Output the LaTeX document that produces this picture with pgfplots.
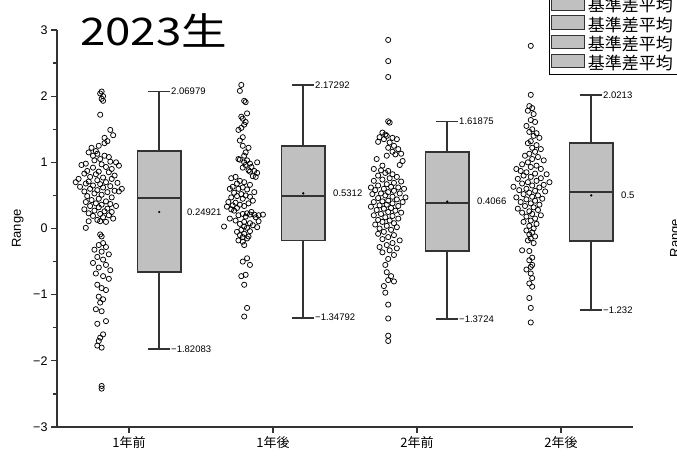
\documentclass[border=0pt]{standalone}
\usepackage{fontspec}
\setmainfont{Liberation Sans}
\newfontfamily\cjk{Noto Sans CJK JP}
\usepackage{pgfplots}
\pgfplotsset{compat=1.18}
\usepgfplotslibrary{statistics}
\definecolor{boxgray}{HTML}{C0C0C0}
\definecolor{edge}{HTML}{333333}
\pgfplotsset{
  mylegend/.style={legend image code/.code={\draw[fill=boxgray, draw=edge, line width=1pt] (1pt,-2.5pt) rectangle (34pt,11pt);}},
  scat/.style={only marks, mark=o, mark size=2.6pt, mark options={black, line width=0.75pt}},
  mybox/.style={forget plot, fill=boxgray, draw=edge, line width=1.5pt,
    boxplot/every box/.style={draw=edge, fill=boxgray, line width=1.5pt},
    boxplot/every whisker/.style={draw=edge, line width=1.8pt},
    boxplot/every median/.style={draw=edge, line width=1.5pt}},
}
\newcommand{\lab}{\fontsize{9.5}{9.5}\selectfont}
\begin{document}
\begin{tikzpicture}[x=1pt,y=1pt]
\begin{axis}[at={(0,0)}, anchor=south west, scale only axis,
  width=576pt, height=397pt,
  xmin=-0.5, xmax=3.5, ymin=-3, ymax=3,
  axis lines=left, axis line style={edge, line width=1.2pt, -},
  tick align=outside, major tick length=6pt, minor tick length=4pt,
  tick style={edge, line width=1.2pt},
  xtick={0,1,2,3}, xticklabels={1年前,1年後,2年前,2年後},
  x tick label style={font=\cjk\fontsize{13}{13}\selectfont},
  ytick={-3,-2,-1,0,1,2,3}, yticklabels={−3,−2,−1,0,1,2,3},
  minor y tick num=1,
  y tick label style={font=\fontsize{12.5}{12.5}\selectfont},
  ylabel={Range},
  ylabel style={at={(axis description cs:-0.068,0.5)}, anchor=center, font=\fontsize{13}{13}\selectfont},
  boxplot/draw direction=y,
  clip=false,
  legend cell align=left,
  legend style={at={(axis description cs:0.854,1.09)}, anchor=north west, draw=black, line width=0.8pt, fill=white,
    font=\cjk\fontsize{17}{17}\selectfont, inner sep=1.5pt,
    nodes={text height=11pt, text depth=2.5pt, inner sep=1pt}, row sep=0pt, column sep=2pt},
]
% scatter data
\addplot[scat, forget plot] coordinates {
(-0.19,2.07) (-0.20,2.04) (-0.18,2.00) (-0.19,1.96) (-0.18,1.93) (-0.20,1.72)
(-0.13,1.49) (-0.11,1.41) (-0.17,1.37) (-0.15,1.32) (-0.17,1.29) (-0.21,1.25) (-0.26,1.22) (-0.23,1.17) (-0.28,1.15) (-0.22,1.13) (-0.25,1.10) (-0.17,1.10) (-0.14,1.08) (-0.20,1.05) (-0.24,1.03) (-0.09,1.00) (-0.13,1.01) (-0.30,0.98) (-0.19,0.97) (-0.07,0.95) (-0.33,0.96) (-0.16,0.93) (-0.25,0.92) (-0.12,0.90) (-0.29,0.87) (-0.21,0.86) (-0.14,0.85) (-0.31,0.83) (-0.23,0.82) (-0.10,0.80) (-0.27,0.78) (-0.18,0.77) (-0.35,0.75) (-0.12,0.75) (-0.22,0.73) (-0.28,0.71) (-0.16,0.70) (-0.37,0.70) (-0.08,0.69) (-0.30,0.68) (-0.20,0.67) (-0.25,0.65) (-0.13,0.64) (-0.34,0.63) (-0.18,0.62) (-0.05,0.60) (-0.27,0.60) (-0.22,0.58) (-0.10,0.57) (-0.31,0.56) (-0.15,0.55) (-0.07,0.56) (-0.24,0.53) (-0.19,0.51) (-0.29,0.49) (-0.12,0.47) (-0.21,0.45) (-0.26,0.43) (-0.16,0.41) (-0.30,0.40) (-0.23,0.38) (-0.13,0.37) (-0.19,0.36) (-0.27,0.34) (-0.09,0.34) (-0.21,0.32) (-0.15,0.30) (-0.31,0.29) (-0.24,0.27) (-0.17,0.26) (-0.12,0.25) (-0.28,0.23) (-0.20,0.22) (-0.14,0.20) (-0.25,0.19) (-0.18,0.17) (-0.11,0.15) (-0.22,0.13) (-0.28,0.11) (-0.16,0.10) (-0.20,0.11) (-0.30,0.01) (-0.20,-0.09) (-0.19,-0.12) (-0.18,-0.22) (-0.21,-0.25) (-0.16,-0.28) (-0.24,-0.32) (-0.19,-0.35) (-0.14,-0.39) (-0.22,-0.43) (-0.18,-0.47) (-0.25,-0.52) (-0.16,-0.55) (-0.21,-0.59) (-0.13,-0.63) (-0.23,-0.68) (-0.18,-0.72) (-0.14,-0.76) (-0.22,-0.85) (-0.19,-0.90) (-0.16,-0.93) (-0.21,-1.03) (-0.18,-1.07) (-0.20,-1.12) (-0.23,-1.22) (-0.19,-1.25) (-0.16,-1.40) (-0.22,-1.44) (-0.18,-1.60) (-0.20,-1.65) (-0.21,-1.70) (-0.22,-1.77) (-0.19,-1.80) (-0.19,-2.38) (-0.19,-2.42)
};
\addplot[scat, forget plot] coordinates {
(0.78,2.17) (0.77,2.08) (0.80,1.93) (0.81,1.91) (0.82,1.74) (0.78,1.69) (0.79,1.66) (0.81,1.61) (0.80,1.57) (0.78,1.52) (0.76,1.49) (0.79,1.38) (0.77,1.33) (0.79,1.25) (0.83,1.22) (0.81,1.15) (0.80,1.10) (0.76,1.05) (0.77,1.04) (0.82,1.03) (0.80,1.00) (0.89,1.00) (0.84,0.98) (0.81,0.96) (0.85,0.93) (0.79,0.92) (0.83,0.88) (0.87,0.87) (0.84,0.86) (0.89,0.84) (0.86,0.79) (0.88,0.78) (0.74,0.78) (0.71,0.76) (0.77,0.72) (0.80,0.70) (0.75,0.68) (0.84,0.66) (0.72,0.63) (0.79,0.62) (0.76,0.60) (0.70,0.60) (0.82,0.59) (0.87,0.55) (0.73,0.54) (0.78,0.52) (0.81,0.50) (0.75,0.49) (0.84,0.48) (0.71,0.47) (0.79,0.45) (0.86,0.42) (0.69,0.40) (0.74,0.39) (0.83,0.38) (0.77,0.36) (0.72,0.35) (0.80,0.34) (0.68,0.33) (0.75,0.31) (0.71,0.29) (0.73,0.27) (0.85,0.25) (0.82,0.23) (0.87,0.21) (0.84,0.21) (0.90,0.20) (0.93,0.21) (0.79,0.22) (0.76,0.20) (0.81,0.18) (0.88,0.17) (0.70,0.15) (0.74,0.12) (0.90,0.11) (0.80,0.10) (0.84,0.08) (0.77,0.07) (0.86,0.05) (0.66,0.03) (0.80,0.03) (0.82,0.01) (0.89,0.02) (0.78,-0.02) (0.84,-0.04) (0.75,-0.05) (0.80,-0.08) (0.77,-0.10) (0.83,-0.12) (0.79,-0.13) (0.82,-0.15) (0.76,-0.18) (0.79,-0.20) (0.80,-0.25) (0.82,-0.45) (0.79,-0.50) (0.84,-0.55) (0.81,-0.70) (0.78,-0.72) (0.80,-0.85) (0.82,-1.20) (0.80,-1.33)
};
\addplot[scat, forget plot] coordinates {
(1.80,2.85) (1.80,2.53) (1.80,2.29) (1.80,1.62) (1.81,1.60) (1.76,1.45) (1.78,1.42) (1.74,1.38) (1.79,1.40) (1.77,1.35) (1.73,1.31) (1.83,1.37) (1.86,1.35) (1.81,1.30) (1.84,1.25) (1.80,1.22) (1.87,1.20) (1.83,1.16) (1.85,1.12) (1.89,1.13) (1.79,1.10) (1.72,1.05) (1.90,1.02) (1.88,0.96) (1.76,0.95) (1.70,0.90) (1.75,0.88) (1.80,0.87) (1.78,0.84) (1.83,0.82) (1.73,0.80) (1.86,0.78) (1.81,0.76) (1.76,0.74) (1.70,0.72) (1.89,0.71) (1.84,0.69) (1.79,0.67) (1.73,0.65) (1.68,0.62) (1.82,0.63) (1.87,0.62) (1.91,0.60) (1.77,0.60) (1.71,0.58) (1.84,0.57) (1.80,0.55) (1.75,0.53) (1.88,0.53) (1.69,0.52) (1.78,0.50) (1.83,0.48) (1.92,0.47) (1.73,0.46) (1.86,0.44) (1.80,0.42) (1.76,0.41) (1.70,0.40) (1.90,0.40) (1.83,0.38) (1.79,0.36) (1.74,0.35) (1.87,0.34) (1.68,0.33) (1.82,0.31) (1.77,0.30) (1.72,0.28) (1.85,0.27) (1.80,0.25) (1.89,0.24) (1.75,0.22) (1.70,0.20) (1.83,0.19) (1.78,0.17) (1.87,0.15) (1.73,0.13) (1.81,0.12) (1.76,0.10) (1.84,0.08) (1.71,0.06) (1.79,0.04) (1.86,0.02) (1.74,0.00) (1.82,-0.02) (1.77,-0.05) (1.73,-0.08) (1.84,-0.10) (1.80,-0.13) (1.76,-0.16) (1.88,-0.18) (1.83,-0.22) (1.79,-0.25) (1.74,-0.28) (1.86,-0.30) (1.81,-0.33) (1.76,-0.36) (1.84,-0.40) (1.80,-0.46) (1.78,-0.55) (1.79,-0.66) (1.82,-0.72) (1.80,-0.78) (1.84,-0.80) (1.77,-0.87) (1.78,-0.97) (1.80,-1.15) (1.80,-1.36) (1.80,-1.62) (1.80,-1.70)
};
\addplot[scat, forget plot] coordinates {
(2.79,2.76) (2.79,2.02) (2.78,1.85) (2.80,1.82) (2.77,1.78) (2.81,1.73) (2.79,1.64) (2.82,1.61) (2.76,1.55) (2.80,1.50) (2.78,1.46) (2.83,1.44) (2.81,1.40) (2.85,1.37) (2.79,1.32) (2.77,1.29) (2.83,1.26) (2.80,1.22) (2.86,1.20) (2.82,1.16) (2.78,1.13) (2.75,1.10) (2.84,1.08) (2.80,1.05) (2.88,1.03) (2.77,1.00) (2.73,0.97) (2.83,0.95) (2.79,0.93) (2.69,0.90) (2.86,0.90) (2.72,0.87) (2.76,0.85) (2.82,0.83) (2.90,0.82) (2.74,0.80) (2.79,0.78) (2.86,0.76) (2.70,0.75) (2.83,0.72) (2.77,0.70) (2.92,0.70) (2.73,0.68) (2.88,0.66) (2.80,0.65) (2.67,0.63) (2.85,0.62) (2.76,0.60) (2.71,0.58) (2.82,0.57) (2.89,0.56) (2.78,0.54) (2.74,0.52) (2.84,0.50) (2.80,0.48) (2.69,0.47) (2.87,0.45) (2.76,0.44) (2.82,0.42) (2.72,0.40) (2.79,0.38) (2.85,0.36) (2.75,0.34) (2.81,0.32) (2.70,0.30) (2.84,0.28) (2.78,0.26) (2.73,0.24) (2.80,0.22) (2.86,0.20) (2.76,0.18) (2.82,0.15) (2.79,0.12) (2.74,0.10) (2.83,0.07) (2.78,0.04) (2.81,0.00) (2.76,-0.03) (2.80,-0.06) (2.78,-0.09) (2.82,-0.12) (2.79,-0.15) (2.77,-0.18) (2.81,-0.22) (2.73,-0.33) (2.78,-0.34) (2.80,-0.44) (2.78,-0.48) (2.80,-0.55) (2.79,-0.58) (2.76,-0.62) (2.79,-0.68) (2.80,-0.75) (2.78,-0.83) (2.80,-0.88) (2.78,-1.05) (2.79,-1.20) (2.79,-1.42)
};
% boxes
\addplot[mybox, boxplot prepared={draw position=0.21, lower whisker=-1.82083, lower quartile=-0.66, median=0.46, upper quartile=1.17, upper whisker=2.06979, box extend=0.305, whisker extend=0.15}] coordinates {};
\addplot[mybox, boxplot prepared={draw position=1.21, lower whisker=-1.34792, lower quartile=-0.18, median=0.49, upper quartile=1.25, upper whisker=2.17292, box extend=0.305, whisker extend=0.15}] coordinates {};
\addplot[mybox, boxplot prepared={draw position=2.21, lower whisker=-1.3724, lower quartile=-0.34, median=0.385, upper quartile=1.16, upper whisker=1.61875, box extend=0.305, whisker extend=0.15}] coordinates {};
\addplot[mybox, boxplot prepared={draw position=3.21, lower whisker=-1.232, lower quartile=-0.19, median=0.555, upper quartile=1.29, upper whisker=2.0213, box extend=0.305, whisker extend=0.15}] coordinates {};
% means
\addplot[forget plot, only marks, mark=*, mark size=0.9pt, black] coordinates {(0.21,0.24921) (1.21,0.5312) (2.21,0.4066) (3.21,0.5)};
% legend
\addlegendimage{mylegend}\addlegendentry{基準差平均\hspace*{8pt}}
\addlegendimage{mylegend}\addlegendentry{基準差平均\hspace*{8pt}}
\addlegendimage{mylegend}\addlegendentry{基準差平均\hspace*{8pt}}
\addlegendimage{mylegend}\addlegendentry{基準差平均\hspace*{8pt}}
% labels
\node[anchor=west, font=\lab, inner sep=1pt] at (axis cs:0.285,2.06979) {2.06979};
\node[anchor=west, font=\lab, inner sep=1pt] at (axis cs:0.285,-1.82083) {−1.82083};
\node[anchor=west, font=\lab, inner sep=1pt] at (axis cs:1.285,2.17292) {2.17292};
\node[anchor=west, font=\lab, inner sep=1pt] at (axis cs:1.285,-1.34792) {−1.34792};
\node[anchor=west, font=\lab, inner sep=1pt] at (axis cs:2.285,1.61875) {1.61875};
\node[anchor=west, font=\lab, inner sep=1pt] at (axis cs:2.285,-1.3724) {−1.3724};
\node[anchor=west, font=\lab, inner sep=1pt] at (axis cs:3.285,2.0213) {2.0213};
\node[anchor=west, font=\lab, inner sep=1pt] at (axis cs:3.285,-1.232) {−1.232};
\node[anchor=west, font=\lab, inner sep=1pt] at (axis cs:0.395,0.24921) {0.24921};
\node[anchor=west, font=\lab, inner sep=1pt] at (axis cs:1.41,0.5312) {0.5312};
\node[anchor=west, font=\lab, inner sep=1pt] at (axis cs:2.41,0.4066) {0.4066};
\node[anchor=west, font=\lab, inner sep=1pt] at (axis cs:3.41,0.5) {0.5};
\end{axis}
\node[anchor=base west, font=\cjk\fontsize{38}{38}\selectfont, inner sep=0pt, xscale=1.2] at (23,382) {2023生};
\node[anchor=north, rotate=90, font=\fontsize{13}{13}\selectfont, inner sep=0pt] at (613,189) {Range};
\pgfresetboundingbox
\useasboundingbox (-57,-40) rectangle (620,427);
\end{tikzpicture}
\end{document}
